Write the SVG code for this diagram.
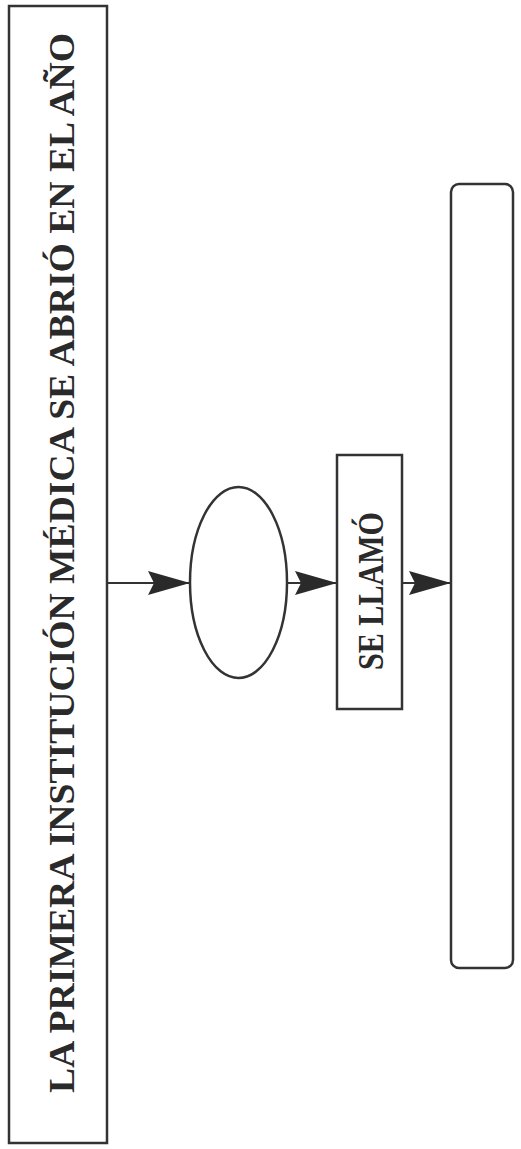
<svg xmlns="http://www.w3.org/2000/svg" width="521" height="1149" viewBox="0 0 521 1149">
<style>
.box{fill:#fff;stroke:#333;stroke-width:2.5}
.conn{stroke:#333;stroke-width:2.2;fill:none}
.lbl{font-family:"Liberation Serif","Times New Roman",serif;font-weight:bold;fill:#2a2a2a;text-anchor:middle}
</style>
<defs>
<marker id="ah" viewBox="0 0 42 24" refX="42" refY="12" markerWidth="42" markerHeight="24" markerUnits="userSpaceOnUse" orient="auto">
<path d="M0,0 L42,12 L0,24 L6,12 Z" fill="#2a2a2a"/>
</marker>
</defs>
<rect width="521" height="1149" fill="#fff"/>
<g id="connectors">
<line class="conn" x1="107" y1="583" x2="190" y2="583" marker-end="url(#ah)"/>
<line class="conn" x1="287" y1="583" x2="337" y2="583" marker-end="url(#ah)"/>
<line class="conn" x1="402" y1="583" x2="451" y2="583" marker-end="url(#ah)"/>
</g>
<g id="node-title">
<rect class="box" x="9" y="6" width="98" height="1137"/>
<text class="lbl" transform="translate(74,563) rotate(-90)" font-size="36" textLength="1060" lengthAdjust="spacingAndGlyphs">LA PRIMERA INSTITUCIÓN MÉDICA SE ABRIÓ EN EL AÑO</text>
</g>
<g id="node-ellipse">
<ellipse class="box" cx="238.5" cy="582.5" rx="48.5" ry="95.5"/>
</g>
<g id="node-sellamo">
<rect class="box" x="337" y="455" width="65" height="254"/>
<text class="lbl" transform="translate(383,591) rotate(-90)" font-size="36" textLength="158" lengthAdjust="spacingAndGlyphs">SE LLAMÓ</text>
</g>
<g id="node-answer">
<rect class="box" x="451" y="184" width="62" height="784" rx="8" ry="8"/>
</g>
</svg>
